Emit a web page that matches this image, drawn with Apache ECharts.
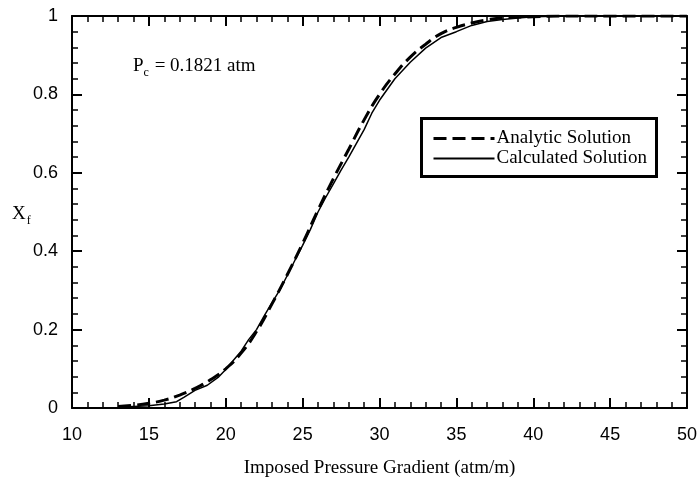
<!DOCTYPE html>
<html>
<head>
<meta charset="utf-8">
<script src="https://cdn.jsdelivr.net/npm/echarts@6/dist/echarts.min.js"></script>
<style>
  html, body { margin: 0; padding: 0; background: #fff; }
  #chart { width: 698px; height: 479px; }
</style>
</head>
<body>
<div id="chart"></div>
<script>
// values
const analyticX = [13, 14, 15, 16, 17, 18, 19, 20, 21, 22, 23, 24, 25, 26, 27, 28, 29, 30, 31, 32, 33, 34, 35, 36, 37, 38, 40, 42, 45, 50]
const analyticY = [0.004, 0.007, 0.012, 0.02, 0.033, 0.05, 0.072, 0.1, 0.14, 0.195, 0.265, 0.34, 0.42, 0.505, 0.585, 0.66, 0.735, 0.8, 0.852, 0.895, 0.928, 0.955, 0.971, 0.982, 0.99, 0.995, 0.998, 1, 1, 1]

const calcX = [13, 14, 15, 16, 16.8, 17.3, 18, 18.8, 19.5, 20, 20.5, 21, 21.5, 22, 22.5, 23, 23.5, 24, 24.5, 25, 25.5, 26, 26.5, 27, 27.5, 28, 28.5, 29, 29.5, 30, 31, 32, 33, 34, 35, 36, 37, 38, 39, 40, 42, 45, 50]
const calcY = [0.002, 0.004, 0.006, 0.01, 0.016, 0.028, 0.045, 0.058, 0.078, 0.098, 0.122, 0.145, 0.175, 0.2, 0.235, 0.268, 0.3, 0.338, 0.377, 0.415, 0.455, 0.5, 0.537, 0.572, 0.607, 0.64, 0.675, 0.71, 0.752, 0.785, 0.84, 0.882, 0.918, 0.945, 0.96, 0.976, 0.986, 0.991, 0.995, 0.998, 1, 1, 1]

const xTicks = [10, 15, 20, 25, 30, 35, 40, 45, 50]
const yTicks = [0, 0.2, 0.4, 0.6, 0.8, 1]
const legendNames = ['Analytic Solution', 'Calculated Solution']

const serif = '"Liberation Serif", "DejaVu Serif", serif'
const sans = '"Liberation Sans", Arial, sans-serif'

const myChart = echarts.init(document.getElementById('chart'))

function axisBase(show, margin) {
  return {
    axisLine: { show: true, onZero: false, lineStyle: { color: '#000', width: 2 } },
    axisTick: { show: true, inside: true, length: 10, lineStyle: { color: '#000', width: 2 } },
    minorTick: { show: true, splitNumber: 5, length: 6, lineStyle: { color: '#000', width: 1.5 } },
    splitLine: { show: false },
    axisLabel: { show: show, margin: margin, color: '#000', fontFamily: sans, fontSize: 18 }
  }
}

const option = {
  backgroundColor: '#fff',
  animation: false,
  grid: { left: 72, right: 11, top: 16, bottom: 71, containLabel: false, outerBoundsMode: 'none' },
  xAxis: [
    Object.assign(axisBase(true, 18), {
      type: 'value', position: 'bottom', min: xTicks[0], max: xTicks[xTicks.length - 1], interval: 5,
      name: 'Imposed Pressure Gradient (atm/m)', nameLocation: 'middle', nameGap: 51,
      nameTextStyle: { color: '#000', fontFamily: serif, fontSize: 19 }
    }),
    Object.assign(axisBase(false, 8), {
      type: 'value', position: 'top', min: xTicks[0], max: xTicks[xTicks.length - 1], interval: 5
    })
  ],
  yAxis: [
    Object.assign(axisBase(true, 14), {
      type: 'value', position: 'left', min: yTicks[0], max: yTicks[yTicks.length - 1], interval: 0.2
    }),
    Object.assign(axisBase(false, 8), {
      type: 'value', position: 'right', min: yTicks[0], max: yTicks[yTicks.length - 1], interval: 0.2
    })
  ],
  graphic: [
    {
      type: 'text', left: 133, top: 57,
      style: {
        text: 'P{s|c} = 0.1821 atm',
        fill: '#000', font: '19px ' + serif,
        rich: { s: { fontSize: 12, fontFamily: serif, padding: [12, 1, 0, 0], fill: '#000' } }
      }
    },
    {
      type: 'text', left: 12, top: 205,
      style: {
        text: 'X{s|f}',
        fill: '#000', font: '19px ' + serif,
        rich: { s: { fontSize: 12, fontFamily: serif, padding: [12, 0, 0, 1], fill: '#000' } }
      }
    },
    // legend box
    {
      type: 'group', left: 420, top: 117,
      children: [
        { type: 'rect', shape: { x: 0, y: 0, width: 235, height: 58 }, style: { fill: '#fff', stroke: '#000', lineWidth: 3 } },
        { type: 'line', shape: { x1: 12, y1: 20, x2: 73, y2: 20 }, style: { stroke: '#000', lineWidth: 3, lineDash: [13, 6] } },
        { type: 'line', shape: { x1: 12, y1: 40, x2: 73, y2: 40 }, style: { stroke: '#000', lineWidth: 2 } },
        { type: 'text', x: 75, y: 20, style: { text: legendNames[0], fill: '#000', font: '19px ' + serif, verticalAlign: 'middle' } },
        { type: 'text', x: 75, y: 40, style: { text: legendNames[1], fill: '#000', font: '19px ' + serif, verticalAlign: 'middle' } }
      ]
    }
  ],
  series: [
    {
      name: legendNames[0],
      type: 'line',
      showSymbol: false,
      symbol: 'none',
      smooth: true,
      data: analyticX.map((x, i) => [x, analyticY[i]]),
      lineStyle: { color: '#000', width: 3, type: [13, 6] },
      itemStyle: { color: '#000' }
    },
    {
      name: legendNames[1],
      type: 'line',
      showSymbol: false,
      symbol: 'none',
      data: calcX.map((x, i) => [x, calcY[i]]),
      lineStyle: { color: '#000', width: 1.5 },
      itemStyle: { color: '#000' }
    }
  ]
}

option && myChart.setOption(option)
</script>
</body>
</html>
